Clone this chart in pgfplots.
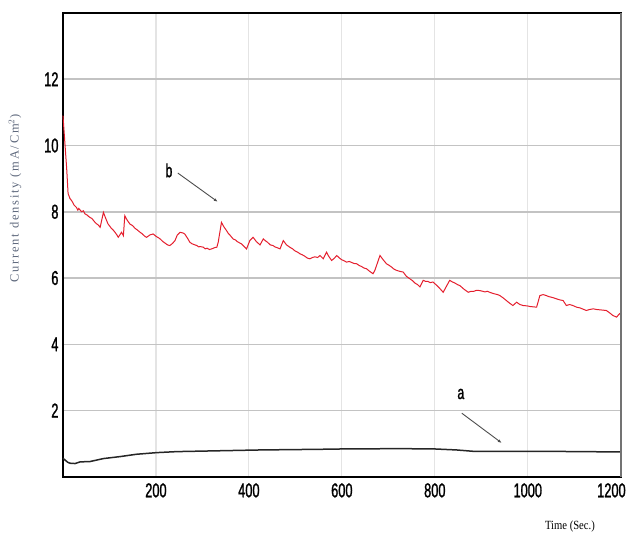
\documentclass[border=0pt]{standalone}
\usepackage{fontspec}
\usepackage{pgfplots}
\pgfplotsset{compat=1.18}
\usetikzlibrary{arrows.meta}
\setmainfont{Liberation Serif}
\newfontfamily\tickfont[FakeStretch=0.64,FakeBold=1.2]{Liberation Sans}
\newfontfamily\ylabfont[LetterSpace=14]{Liberation Serif}
\newfontfamily\xlabfont[FakeStretch=0.85]{Liberation Serif}
\definecolor{curvered}{RGB}{228,30,45}
\definecolor{gridgray}{RGB}{195,195,195}
\definecolor{gridgrayv}{RGB}{228,228,228}
\definecolor{labblue}{RGB}{95,105,125}
\begin{document}
\begin{tikzpicture}
\path (-63pt,-58pt) rectangle (566pt,477pt);
\begin{axis}[at={(0,0)}, anchor=south west, scale only axis,
  width=558pt, height=464pt,
  xmin=0, xmax=1200, ymin=0, ymax=14,
  xtick={200,400,...,1200}, ytick={2,4,...,12},
  xticklabels={200,400,600,800,1000,{}},
  major tick length=0pt,
  xmajorgrids, ymajorgrids,
  x grid style={gridgrayv, line width=1.2pt},
  y grid style={gridgray, line width=1.5pt},
  axis line style={line width=2.4pt, black},
  ticklabel style={font=\tickfont\fontsize{20}{20}\selectfont},
  /pgf/number format/assume math mode=true,
  /pgf/number format/1000 sep={},
  xticklabel style={yshift=-3pt},
  yticklabel style={xshift=-1pt},
  clip=false,
]
\addplot[curvered, line width=1pt] coordinates {
(0,10.9) (3,10.3) (6,9.7) (8,9.3) (11,8.55) (15,8.4) (19,8.33) (24,8.2) (29,8.13) (32,8.05) (34,8.1) (40,8.0) (44,8.03) (47,7.94) (52,7.9) (55,7.86) (58,7.83) (62,7.8) (65,7.75) (69,7.68) (72,7.64) (76,7.6) (80,7.53) (87,7.98) (92,7.8) (97,7.63) (101,7.56) (104,7.5) (108,7.45) (112,7.38) (116,7.3) (119,7.23) (126,7.38) (130,7.28) (133,7.88) (138,7.75) (144,7.63) (150,7.58) (155,7.5) (160,7.45) (166,7.38) (170,7.34) (173,7.3) (177,7.25) (180,7.23) (187,7.3) (194,7.33) (201,7.25) (205,7.22) (209,7.18) (215,7.1) (220,7.05) (225,7.0) (230,6.98) (236,7.05) (241,7.13) (246,7.3) (252,7.38) (258,7.36) (262,7.33) (268,7.2) (273,7.08) (277,7.04) (280,7.02) (288,6.98) (292,6.94) (295,6.95) (302,6.93) (306,6.88) (310,6.9) (315,6.86) (320,6.88) (327,6.92) (331,6.93) (334,7.08) (341,7.68) (346,7.55) (352,7.43) (356,7.34) (359,7.3) (366,7.18) (371,7.15) (375,7.1) (380,7.06) (384,7.03) (390,6.95) (395,6.88) (402,7.13) (409,7.23) (416,7.1) (424,7.0) (431,7.18) (436,7.12) (440,7.08) (446,7.0) (452,6.98) (456,6.94) (460,6.92) (467,6.88) (474,7.13) (481,7.0) (488,6.93) (494,6.88) (499,6.82) (505,6.78) (510,6.73) (515,6.7) (520,6.66) (526,6.6) (531,6.58) (537,6.62) (542,6.64) (548,6.62) (553,6.68) (560,6.58) (567,6.78) (572,6.65) (578,6.53) (584,6.6) (589,6.68) (595,6.6) (600,6.55) (605,6.52) (610,6.48) (616,6.5) (621,6.47) (626,6.44) (632,6.43) (637,6.38) (642,6.35) (648,6.3) (653,6.28) (660,6.2) (667,6.13) (671,6.23) (682,6.68) (689,6.55) (696,6.43) (702,6.38) (707,6.33) (712,6.27) (718,6.23) (725,6.2) (732,6.18) (739,6.05) (746,5.98) (752,5.92) (757,5.85) (763,5.8) (768,5.73) (775,5.93) (780,5.9) (785,5.9) (790,5.86) (796,5.88) (804,5.78) (811,5.68) (818,5.57) (825,5.75) (832,5.93) (838,5.88) (843,5.85) (849,5.8) (854,5.77) (863,5.66) (872,5.57) (878,5.6) (884,5.6) (890,5.63) (897,5.62) (903,5.6) (908,5.58) (913,5.6) (918,5.57) (924,5.54) (929,5.52) (935,5.5) (940,5.47) (947,5.4) (954,5.32) (961,5.24) (968,5.17) (976,5.27) (983,5.2) (990,5.17) (998,5.16) (1005,5.14) (1012,5.13) (1019,5.12) (1026,5.47) (1033,5.5) (1040,5.47) (1045,5.44) (1051,5.42) (1056,5.4) (1062,5.37) (1069,5.34) (1076,5.32) (1083,5.17) (1090,5.2) (1097,5.17) (1105,5.12) (1112,5.1) (1119,5.06) (1126,5.02) (1133,5.05) (1141,5.07) (1148,5.05) (1155,5.04) (1162,5.03) (1169,5.02) (1176,4.95) (1183,4.87) (1191,4.82) (1196,4.9) (1200,4.95)
};
\addplot[black!85, line width=1.5pt] coordinates {
(0,0.56) (5,0.5) (10,0.44) (15,0.41) (26,0.4) (37,0.45) (58,0.46) (87,0.55) (123,0.61) (158,0.68) (202,0.73) (245,0.76) (316,0.78) (424,0.81) (553,0.83) (600,0.84) (725,0.85) (800,0.84) (847,0.81) (882,0.77) (1026,0.77) (1200,0.75)
};
\draw[-{Latex[length=4pt,width=3pt]}, black!70, line width=0.9pt] (axis cs:247,9.17) -- (axis cs:333,8.30);
\node[font=\tickfont\fontsize{19}{19}\selectfont] at (axis cs:228,9.25) {b};
\draw[-{Latex[length=4pt,width=3pt]}, black!70, line width=0.9pt] (axis cs:858,1.92) -- (axis cs:944,1.02);
\node[font=\tickfont\fontsize{19}{19}\selectfont] at (axis cs:856,2.5) {a};
\draw[black!55, line width=2.2pt] (rel axis cs:1,0) -- (rel axis cs:1,1);
\node[font=\tickfont\fontsize{20}{20}\selectfont, anchor=north] at ([yshift=-3pt]axis cs:1180,0) {1200};
\node[rotate=90, text=labblue, font=\ylabfont\fontsize{12.5}{12.5}\selectfont] at (rel axis cs:-0.086,0.6) {Current density (mA/Cm$^{2}$)};
\node[font=\xlabfont\fontsize{12.5}{12.5}\selectfont] at (rel axis cs:0.909,-0.108) {Time (Sec.)};
\end{axis}
\end{tikzpicture}
\end{document}
